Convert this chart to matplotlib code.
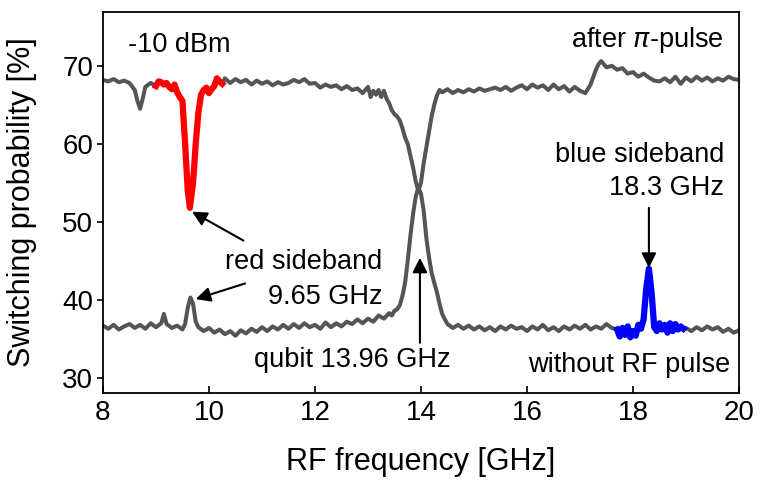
import numpy as np
import matplotlib
matplotlib.use('Agg')
import matplotlib.pyplot as plt

plt.rcParams['font.family'] = ['Liberation Sans', 'DejaVu Sans']

# upper curve: after pi-pulse (red part is 9.0 - 10.25 GHz)
x_up = [8.0, 8.1, 8.2, 8.3, 8.4, 8.5, 8.6, 8.65, 8.7, 8.75, 8.8, 8.9,
        9.0, 9.05, 9.1, 9.15, 9.2, 9.25, 9.3, 9.35, 9.4, 9.45, 9.5, 9.55, 9.6, 9.64,
        9.7, 9.75, 9.8, 9.85, 9.9, 9.95, 10.0, 10.05, 10.1, 10.15, 10.2, 10.25,
        10.3, 10.4, 10.5, 10.6, 10.7, 10.8, 10.9, 11.0, 11.1, 11.2, 11.3, 11.4, 11.5,
        11.6, 11.7, 11.8, 11.9, 12.0, 12.1, 12.2, 12.3, 12.4, 12.5, 12.6, 12.7, 12.8,
        12.9, 13.0, 13.05, 13.1, 13.15, 13.2, 13.25, 13.3, 13.35, 13.4, 13.45, 13.5,
        13.55, 13.6, 13.65, 13.7, 13.75, 13.8, 13.85, 13.9, 13.95, 14.0, 14.05, 14.1,
        14.15, 14.2, 14.25, 14.3, 14.35, 14.4, 14.5, 14.6, 14.7, 14.8, 14.9, 15.0,
        15.1, 15.2, 15.3, 15.4, 15.5, 15.6, 15.7, 15.8, 15.9, 16.0, 16.1, 16.2, 16.3,
        16.4, 16.5, 16.6, 16.7, 16.8, 16.9, 17.0, 17.1, 17.2, 17.3, 17.35, 17.4, 17.5,
        17.6, 17.7, 17.8, 17.9, 18.0, 18.1, 18.2, 18.3, 18.4, 18.5, 18.6, 18.7, 18.8,
        18.9, 19.0, 19.1, 19.2, 19.3, 19.4, 19.5, 19.6, 19.7, 19.8, 19.9, 20.0]
y_up = [68.2, 68.0, 68.3, 67.9, 68.1, 67.8, 66.9, 65.5, 64.5, 65.8, 67.3, 67.8,
        67.4, 68.0, 67.9, 67.6, 67.8, 67.3, 67.0, 67.6, 66.6, 66.0, 65.5, 60.0, 54.0, 51.8,
        55.0, 60.0, 64.0, 66.3, 66.9, 67.2, 66.5, 67.0, 67.4, 68.4, 68.0, 67.7,
        68.4, 67.8, 68.3, 67.9, 68.2, 67.6, 68.1, 67.7, 68.0, 67.5, 67.9, 67.6, 67.8,
        68.2, 67.9, 68.3, 67.7, 67.8, 67.2, 67.6, 67.3, 67.5, 67.0, 67.4, 66.9, 67.1,
        66.5, 67.3, 66.0, 66.8, 66.3, 66.9, 66.0, 66.8, 65.8, 65.2, 64.3, 63.8,
        63.5, 63.0, 62.0, 60.8, 60.0, 58.5, 57.0, 55.2, 54.0, 55.0, 57.5, 59.5,
        61.5, 63.5, 65.0, 66.2, 66.9, 66.6, 67.0, 66.5, 66.9, 66.6, 67.0, 66.7,
        67.1, 66.8, 67.0, 67.2, 66.9, 67.3, 66.8, 67.2, 67.5, 67.0, 67.6, 67.2, 67.5,
        66.9, 67.6, 67.0, 67.4, 66.7, 67.3, 66.8, 66.5, 67.6, 69.5, 70.2, 70.6, 69.8,
        70.0, 69.5, 69.7, 69.0, 69.2, 68.6, 69.0, 68.5, 68.1, 68.0, 68.4, 67.9, 68.6,
        67.7, 68.5, 68.0, 68.6, 68.1, 68.5, 68.0, 68.4, 68.1, 68.6, 68.3, 68.2]

# lower curve: without RF pulse (blue part is 17.7 - 18.95 GHz)
x_low = [8.0, 8.1, 8.2, 8.3, 8.4, 8.5, 8.6, 8.7, 8.8, 8.9, 9.0, 9.1, 9.15, 9.2,
         9.3, 9.4, 9.5, 9.55, 9.6, 9.65, 9.7, 9.75, 9.8, 9.9, 10.0, 10.1, 10.2, 10.3,
         10.4, 10.5, 10.6, 10.7, 10.8, 10.9, 11.0, 11.1, 11.2, 11.3, 11.4, 11.5, 11.6,
         11.7, 11.8, 11.9, 12.0, 12.1, 12.2, 12.3, 12.4, 12.5, 12.6, 12.7, 12.8, 12.9,
         13.0, 13.1, 13.2, 13.3, 13.4, 13.45, 13.5, 13.55, 13.6, 13.65, 13.7, 13.75,
         13.8, 13.85, 13.9, 13.95, 14.0, 14.05, 14.1, 14.15, 14.2, 14.25, 14.3, 14.35,
         14.4, 14.45, 14.5, 14.6, 14.7, 14.8, 14.9, 15.0, 15.1, 15.2, 15.3, 15.4, 15.5,
         15.6, 15.7, 15.8, 15.9, 16.0, 16.1, 16.2, 16.3, 16.4, 16.5, 16.6, 16.7, 16.8,
         16.9, 17.0, 17.1, 17.2, 17.3, 17.4, 17.5, 17.6,
         17.7, 17.75, 17.8, 17.85, 17.9, 17.95, 18.0, 18.05, 18.1, 18.15, 18.2, 18.25,
         18.3, 18.35, 18.4, 18.45, 18.5, 18.55, 18.6, 18.65, 18.7, 18.75, 18.8, 18.85,
         18.9, 18.95, 19.0, 19.1, 19.2, 19.3, 19.4, 19.5, 19.6, 19.7, 19.8, 19.9, 20.0]
y_low = [36.7, 36.3, 36.8, 36.2, 36.6, 36.9, 36.4, 36.8, 36.3, 37.0, 36.5, 37.0, 38.2, 36.9,
         36.4, 36.7, 36.2, 36.9, 39.0, 40.3, 39.5, 37.2, 36.5, 36.0, 36.4, 35.8, 36.2, 35.6,
         36.0, 35.4, 36.1, 35.7, 36.3, 35.9, 36.5, 36.0, 36.6, 36.2, 36.8, 36.3, 36.9,
         36.4, 37.0, 36.5, 36.8, 36.3, 37.1, 36.5, 37.0, 36.6, 37.2, 36.9, 37.5, 37.0,
         37.6, 37.2, 38.0, 37.6, 38.3, 38.0, 38.6, 38.8, 39.3, 40.5, 42.2, 45.0,
         48.2, 51.0, 53.2, 54.4, 53.6, 51.5, 48.0, 45.5, 43.5, 42.2, 41.0, 39.5,
         38.2, 37.5, 36.9, 36.4, 36.8, 36.3, 36.7, 36.2, 36.6, 36.1, 36.5, 36.0, 36.6,
         36.2, 36.7, 36.3, 36.5, 36.0, 36.6, 36.2, 36.8, 36.1, 36.5, 36.0, 36.6, 36.2,
         36.7, 36.3, 36.8, 36.2, 36.6, 36.3, 36.9, 36.4,
         36.2, 35.3, 36.4, 35.5, 36.6, 35.2, 36.0, 35.4, 36.8, 36.3, 37.5, 41.5,
         44.0, 41.0, 36.5, 36.0, 37.0, 36.2, 36.8, 35.8, 37.0, 36.0, 36.9, 36.2,
         36.6, 36.3, 36.4, 36.0, 36.5, 36.1, 36.6, 36.2, 36.5, 35.9, 36.3, 35.8, 36.1]

red_range = (9.0, 10.25)
blue_range = (17.7, 18.95)

x_up = np.array(x_up)
y_up = np.array(y_up)
x_low = np.array(x_low)
y_low = np.array(y_low)
red = (x_up >= red_range[0]) & (x_up <= red_range[1])
blue = (x_low >= blue_range[0]) & (x_low <= blue_range[1])

fig = plt.figure(figsize=(7.61, 4.87), dpi=100)
ax = fig.add_axes([0.1353, 0.1936, 0.8358, 0.7818])

gray = '#555555'
ax.plot(x_up, y_up, color=gray, lw=2.9)
ax.plot(x_low, y_low, color=gray, lw=2.9)
ax.plot(x_up[red], y_up[red], color='#ff0000', lw=4.5)
ax.plot(x_low[blue], y_low[blue], color='#0000ff', lw=4.5)

ax.set_xlim(8, 20)
ax.set_ylim(28.1, 76.9)
ax.set_xticks([8, 10, 12, 14, 16, 18, 20])
ax.set_yticks([30, 40, 50, 60, 70])
ax.tick_params(axis='x', direction='in', length=5, width=1.2, labelsize=20, pad=5)
ax.tick_params(axis='y', direction='out', length=4, width=1.2, labelsize=20, pad=3)
for s in ax.spines.values():
    s.set_linewidth(1.3)

ax.set_xlabel('RF frequency [GHz]', fontsize=22, va='center')
ax.set_ylabel('Switching probability [%]', fontsize=22, va='center')
ax.xaxis.set_label_coords(0.5, -0.182)
ax.yaxis.set_label_coords(-0.127, 0.5)

fs = 19.5
ax.text(8.47, 72.7, '-10 dBm', fontsize=fs, ha='left', va='center')
ax.text(19.72, 73.3, r'after $\pi$-pulse', fontsize=fs, ha='right', va='center')
ax.text(19.72, 58.6, 'blue sideband', fontsize=fs, ha='right', va='center')
ax.text(19.72, 54.4, '18.3 GHz', fontsize=fs, ha='right', va='center')
ax.text(13.27, 44.9, 'red sideband', fontsize=fs, ha='right', va='center')
ax.text(13.27, 40.4, '9.65 GHz', fontsize=fs, ha='right', va='center')
ax.text(12.7, 32.3, 'qubit 13.96 GHz', fontsize=fs, ha='center', va='center')
ax.text(19.83, 31.7, 'without RF pulse', fontsize=fs, ha='right', va='center')

arrow = dict(arrowstyle='-|>', color='k', lw=1.5, mutation_scale=22, shrinkA=0, shrinkB=0)
ax.annotate('', xy=(9.68, 51.3), xytext=(10.65, 47.6), arrowprops=arrow)
ax.annotate('', xy=(9.75, 40.1), xytext=(10.68, 42.1), arrowprops=arrow)
ax.annotate('', xy=(13.98, 45.4), xytext=(13.98, 34.5), arrowprops=arrow)
ax.annotate('', xy=(18.3, 44.1), xytext=(18.3, 51.8), arrowprops=arrow)

fig.savefig('out.png', dpi=100)
